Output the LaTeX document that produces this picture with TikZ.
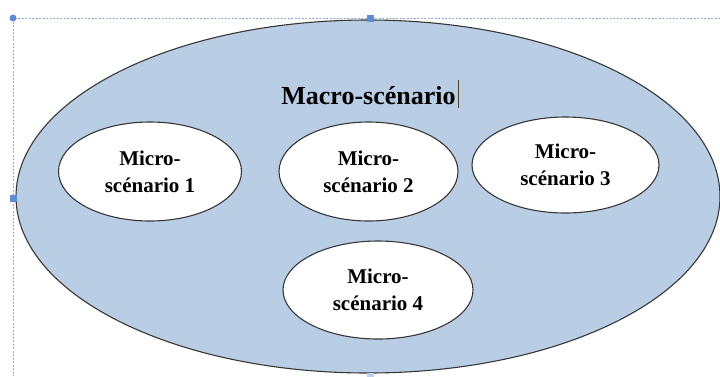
\documentclass[tikz,border=0pt]{standalone}
\usepackage{fontspec}
\setmainfont{Liberation Serif}
\usetikzlibrary{shapes.geometric}
\definecolor{macrofill}{RGB}{185,205,228}
\definecolor{edgegray}{RGB}{55,55,55}
\definecolor{selblue}{RGB}{91,141,214}
\definecolor{caret}{RGB}{80,64,40}
\tikzset{
  bigell/.style={ellipse, draw=edgegray, line width=1.1pt, fill=macrofill, inner sep=0pt},
  microell/.style={ellipse, draw=edgegray, line width=1.1pt, fill=white, inner sep=0pt, align=center,
    font=\bfseries\fontsize{21}{27}\selectfont},
  macrotext/.style={font=\bfseries\fontsize{26}{30}\selectfont, anchor=base, inner sep=0pt},
  selline/.style={draw=selblue!70, line width=0.8pt, dash pattern=on 2pt off 1.5pt},
  handle/.style={rectangle, fill=selblue, minimum size=7pt, inner sep=0pt}
}
\begin{document}
\begin{tikzpicture}[x=1pt,y=-1pt]
\useasboundingbox (0,0) rectangle (720,376);
% selection frame
\coordinate (tl) at (13,18);
\coordinate (tr) at (720,18);
\coordinate (bl) at (13,376);
\draw[selline] (tr) -- (tl) -- (bl);
% macro ellipse
\node[bigell, minimum width=704pt, minimum height=353pt] (macro) at (368,196.5) {};
\node[macrotext] (macrolab) at (368.5,104) {Macro-scénario};
\coordinate (caretTop) at (458.5,80);
\coordinate (caretBot) at (458.5,108);
\draw[caret, line width=1.2pt] (caretTop) -- (caretBot);
% micro ellipses
\node[microell, minimum width=183pt, minimum height=99pt] (m1) at (150,171.5) {Micro-\\scénario 1};
\node[microell, minimum width=179pt, minimum height=99pt] (m2) at (368.5,171.5) {Micro-\\scénario 2};
\node[microell, minimum width=187pt, minimum height=96pt] (m3) at (565.5,165) {Micro-\\scénario 3};
\node[microell, minimum width=190pt, minimum height=98pt] (m4) at (378,290) {Micro-\\scénario 4};
% handles
\node[circle, fill=selblue, minimum size=7pt, inner sep=0pt] (h0) at (tl) {};
\node[handle] (h1) at (370,18) {};
\node[handle] (h2) at (13,198) {};
\node[handle, fill=selblue!40] (h3) at (370,376) {};
\end{tikzpicture}
\end{document}
